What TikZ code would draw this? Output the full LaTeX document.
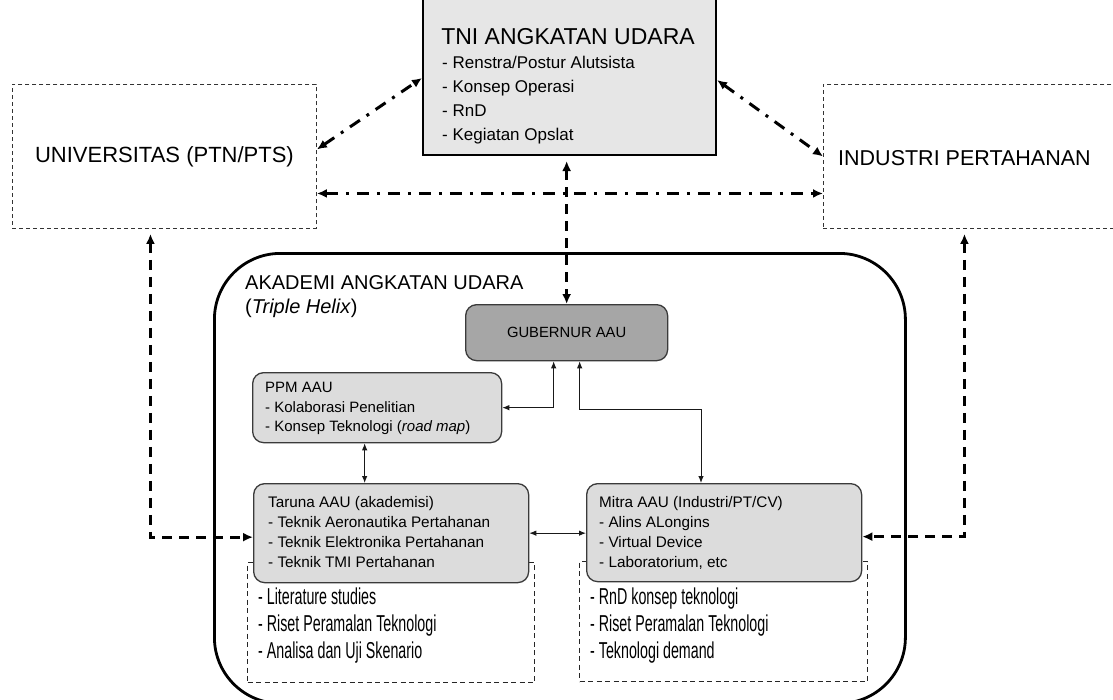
\documentclass[tikz,border=0pt]{standalone}
\usepackage{fontspec}
\setmainfont{Liberation Sans}
\newfontfamily\condfont[FakeStretch=0.62]{Liberation Sans}
\usetikzlibrary{arrows.meta,calc}
\definecolor{tnifill}{HTML}{E6E6E6}
\definecolor{boxfill}{HTML}{DCDCDC}
\definecolor{gubfill}{HTML}{A6A6A6}
\definecolor{bordercol}{HTML}{3A3A3A}
\begin{document}
\begin{tikzpicture}[x=1pt,y=-1pt,
  rbox/.style={draw=bordercol, fill=boxfill, line width=1.3pt, rounded corners=11pt, anchor=north west, inner sep=0},
  gubbox/.style={rbox, fill=gubfill},
  tnibox/.style={draw=black, fill=tnifill, line width=2pt, anchor=north west, inner sep=0},
  outbox/.style={draw=black!80, line width=0.9pt, dash pattern=on 4pt off 3pt, anchor=north west, inner sep=0},
  subbox/.style={draw=black!85, line width=1.1pt, dash pattern=on 5pt off 3.5pt, anchor=north west, inner sep=0},
  aaubox/.style={draw=black, line width=2.8pt, rounded corners=66pt, anchor=north west, inner sep=0},
  txt/.style={anchor=north west, align=left, inner sep=0},
  dashdot/.style={line width=3pt, dash pattern=on 12pt off 8pt on 3pt off 8pt, {Latex[length=10pt,width=9pt]}-{Latex[length=10pt,width=9pt]}},
  bigdash/.style={line width=3pt, dash pattern=on 10pt off 7pt, {Latex[length=10pt,width=9pt]}-{Latex[length=10pt,width=9pt]}},
  thinlink/.style={line width=1pt, draw=black!90, {Latex[length=7pt,width=5.5pt]}-{Latex[length=7pt,width=5.5pt]}}
]
\useasboundingbox (0,0) rectangle (1113,699);

% outer partners
\node[outbox, minimum width=304, minimum height=144, font=\fontsize{22}{26}\selectfont] (uni) at (12,84) {UNIVERSITAS (PTN/PTS)};
\node[outbox, minimum width=310, minimum height=144] (ind) at (823,84) {};
\node[anchor=west, inner sep=0, font=\fontsize{21.5}{26}\selectfont] (indtext) at (838,158) {INDUSTRI PERTAHANAN};

% TNI AU
\node[tnibox, minimum width=293, minimum height=158] (tni) at (422,-4) {};
\node[inner sep=0, font=\fontsize{23}{27}\selectfont] (tnititle) at (568,37) {TNI ANGKATAN UDARA};
\node[txt, font=\fontsize{17}{24}\selectfont] (tniitems) at (442,56) {- Renstra/Postur Alutsista\\- Konsep Operasi\\- RnD\\- Kegiatan Opslat};

% AAU container
\node[aaubox, minimum width=691, minimum height=450] (aau) at (213,252) {};
\node[anchor=west, inner sep=0, font=\fontsize{20}{24}\selectfont] (aautitle) at (245,283) {AKADEMI ANGKATAN UDARA};
\node[anchor=west, inner sep=0, font=\fontsize{20}{24}\selectfont] (aausub) at (245,308) {(\textit{Triple Helix})};

% dashed sub boxes
\node[subbox, minimum width=287, minimum height=120] (tard) at (247,562) {};
\node[subbox, minimum width=288, minimum height=120] (mitd) at (579,561) {};
\node[txt, font=\condfont\fontsize{23}{27}\selectfont] (tardtext) at (258,588) {- Literature studies\\- Riset Peramalan Teknologi\\- Analisa dan Uji Skenario};
\node[txt, font=\condfont\fontsize{23}{27}\selectfont] (mitdtext) at (590,588) {- RnD konsep teknologi\\- Riset Peramalan Teknologi\\- Teknologi demand};

% inner boxes
\node[gubbox, minimum width=202, minimum height=56, font=\fontsize{14.8}{17}\selectfont] (gub) at (465,304) {GUBERNUR AAU};
\node[rbox, minimum width=249, minimum height=70] (ppm) at (252,372) {};
\node[txt, font=\fontsize{15}{19.5}\selectfont] (ppmtext) at (265,382) {PPM AAU\\- Kolaborasi Penelitian\\- Konsep Teknologi (\textit{road map})};
\node[rbox, minimum width=275, minimum height=99] (tar) at (253,483) {};
\node[txt, font=\fontsize{15.3}{20}\selectfont] (tartext) at (268,496) {Taruna AAU (akademisi)\\- Teknik Aeronautika Pertahanan\\- Teknik Elektronika Pertahanan\\- Teknik TMI Pertahanan};
\node[rbox, minimum width=275, minimum height=98] (mit) at (586,483) {};
\node[txt, font=\fontsize{15.3}{20}\selectfont] (mittext) at (599,496) {Mitra AAU (Industri/PT/CV)\\- Alins ALongins\\- Virtual Device\\- Laboratorium, etc};

% dash-dot links among the three outer parties
\draw[dashdot] ([yshift=7pt]uni.east) -- ([yshift=-82pt]tni.north west);
\draw[dashdot] ([yshift=-84pt]tni.north east) -- (ind.west);
\draw[dashdot] ([yshift=-37pt]uni.east) -- ([yshift=-37pt]ind.west);

% TNI <-> Gubernur
\draw[bigdash, shorten <=5pt] (gub.north |- tni.south) -- (gub.north);

% outer dashed links to Taruna and Mitra
\draw[bigdash, shorten <=5pt] ([xshift=-14pt]uni.south) |- ([yshift=-4pt]tar.west);
\draw[bigdash, shorten <=5pt] ([xshift=-14pt]ind.south) |- ([yshift=-4pt]mit.east);

% thin internal links
\draw[thinlink] (ppm.east) -| ([xshift=-13pt]gub.south);
\coordinate (mbend) at (701,409);
\draw[thinlink] ([xshift=13pt]gub.south) |- (mbend) -- (mbend |- mit.north);
\draw[thinlink] ([xshift=-12.5pt]ppm.south) -- ([xshift=-12.5pt]ppm.south |- tar.north);
\draw[thinlink] (tar.east) -- (tar.east -| mit.west);
\end{tikzpicture}
\end{document}
